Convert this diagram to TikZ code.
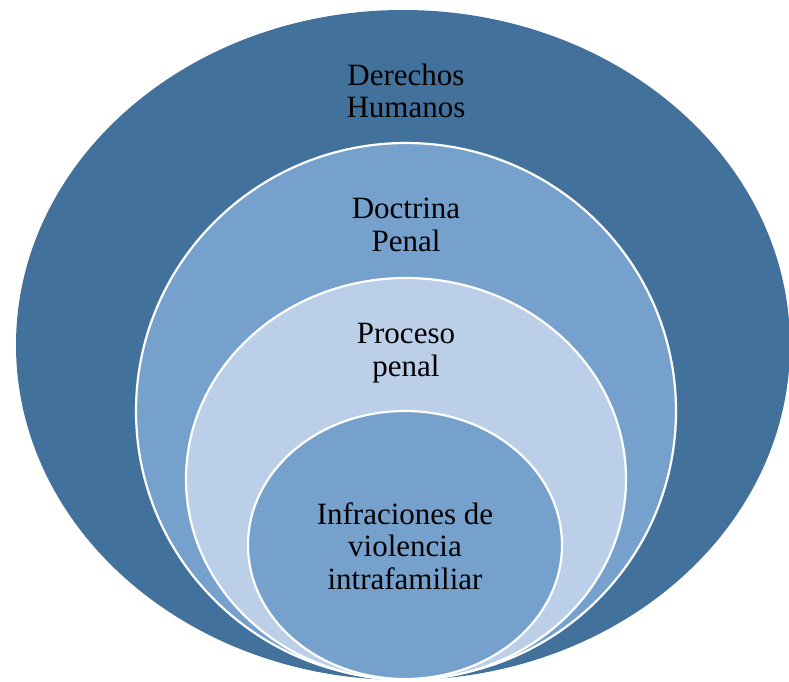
\documentclass[tikz,border=0pt]{standalone}
\usepackage{fontspec}
\setmainfont{Liberation Serif}
\usepackage{tikz}
\usepackage{xcolor}
\definecolor{outerblue}{RGB}{66,114,156}
\definecolor{midblue}{RGB}{117,161,204}
\definecolor{paleblue}{RGB}{188,207,232}

\begin{document}
\begin{tikzpicture}[x=1pt,y=-1pt]
\tikzset{ring/.style={draw=white,line width=2.2pt},
  lbl/.style={align=center,inner sep=0pt,font=\fontsize{31}{32.5}\selectfont}}
% centre line
\newcommand{\cx}{406}
% Page
\useasboundingbox (0,0) rectangle (789,681);
\clip (0,0) rectangle (789,681);

% Outer ellipse
\fill[outerblue] (403,345) ellipse [x radius=387, y radius=335];
% Second ellipse
\filldraw[ring,fill=midblue] (\cx,411) ellipse [x radius=270, y radius=268];
% Third ellipse
\filldraw[ring,fill=paleblue] (\cx,479) ellipse [x radius=220, y radius=201];
% Inner ellipse
\filldraw[ring,fill=midblue] (405,545) ellipse [x radius=157, y radius=134];

% Labels
\node[lbl] (derechos) at (\cx,91) {Derechos\\Humanos};
\node[lbl] (doctrina) at (\cx,225) {Doctrina\\Penal};
\node[lbl] (proceso) at (\cx,353) {Proceso\\penal};
\node[lbl] (infracciones) at (405,546) {Infraciones de\\violencia\\intrafamiliar};
\end{tikzpicture}
\end{document}
